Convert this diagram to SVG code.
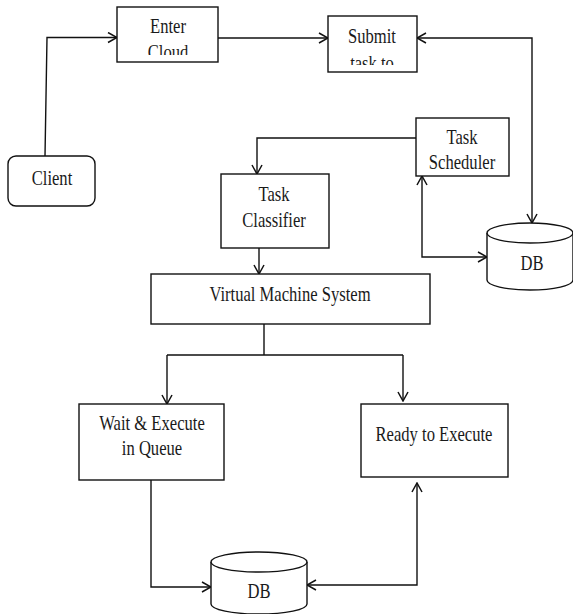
<svg xmlns="http://www.w3.org/2000/svg" width="573" height="614" viewBox="0 0 573 614">
<style>
.box{fill:#fff;stroke:#111;stroke-width:1.4}
.ln{fill:none;stroke:#111;stroke-width:1.4}
.t{font-family:"Liberation Serif","Times New Roman",serif;font-size:20px;fill:#1a1a1a;text-anchor:middle}
</style>
<defs>
<marker id="ah" viewBox="0 0 12 12" refX="11" refY="6" markerWidth="12" markerHeight="12" markerUnits="userSpaceOnUse" orient="auto-start-reverse">
<path d="M2,1 L11,6 L2,11" fill="none" stroke="#111" stroke-width="1.5"/>
</marker>
<clipPath id="c1"><rect x="117" y="7" width="101" height="48"/></clipPath>
<clipPath id="c2"><rect x="328" y="16" width="89" height="49"/></clipPath>
</defs>
<rect width="573" height="614" fill="#fff"/>
<g id="connectors">
<path class="ln" d="M45,156 L47,37.5 L117,37.5" marker-end="url(#ah)"/>
<path class="ln" d="M218,38 L328,38" marker-end="url(#ah)"/>
<path class="ln" d="M532,223 L532,38 L417,38" marker-start="url(#ah)" marker-end="url(#ah)"/>
<path class="ln" d="M416,138 L257,138 L257,174" marker-end="url(#ah)"/>
<path class="ln" d="M422,176 L422,257 L487,257" marker-start="url(#ah)" marker-end="url(#ah)"/>
<path class="ln" d="M259,248 L259,274" marker-end="url(#ah)"/>
<path class="ln" d="M264,324 L264,355 M167,355 L403,355"/>
<path class="ln" d="M167,355 L167,404" marker-end="url(#ah)"/>
<path class="ln" d="M403,355 L403,401" marker-end="url(#ah)"/>
<path class="ln" d="M151,480 L151,587 L211,587" marker-end="url(#ah)"/>
<path class="ln" d="M307,585 L417,585 L417,483" marker-start="url(#ah)" marker-end="url(#ah)"/>
</g>
<g id="client">
<rect class="box" x="8" y="156" width="87" height="50" rx="8"/>
<text class="t" transform="matrix(0.83 0 0 1 52 0)" x="0" y="185">Client</text>
</g>
<g id="enter-cloud">
<rect class="box" x="117" y="7" width="101" height="55"/>
<g clip-path="url(#c1)">
<text class="t" transform="matrix(0.83 0 0 1 168 0)" x="0" y="33">Enter</text>
<text class="t" transform="matrix(0.83 0 0 1 168 0)" x="0" y="59">Cloud</text>
</g>
</g>
<g id="submit-task">
<rect class="box" x="328" y="16" width="89" height="56"/>
<g clip-path="url(#c2)">
<text class="t" transform="matrix(0.83 0 0 1 372 0)" x="0" y="43">Submit</text>
<text class="t" transform="matrix(0.83 0 0 1 372 0)" x="0" y="70">task to</text>
</g>
</g>
<g id="task-scheduler">
<rect class="box" x="416" y="118" width="93" height="58"/>
<text class="t" transform="matrix(0.83 0 0 1 462 0)" x="0" y="144">Task</text>
<text class="t" transform="matrix(0.83 0 0 1 462 0)" x="0" y="169">Scheduler</text>
</g>
<g id="task-classifier">
<rect class="box" x="221" y="174" width="108" height="74"/>
<text class="t" transform="matrix(0.83 0 0 1 274 0)" x="0" y="201">Task</text>
<text class="t" transform="matrix(0.83 0 0 1 274 0)" x="0" y="227">Classifier</text>
</g>
<g id="db-top">
<path class="box" d="M487,233 L487,280 A43,10 0 0 0 573,280 L573,233"/>
<ellipse class="box" cx="530" cy="233" rx="43" ry="10"/>
<text class="t" transform="matrix(0.83 0 0 1 532 0)" x="0" y="270">DB</text>
</g>
<g id="vm-system">
<rect class="box" x="151" y="274" width="279" height="50"/>
<text class="t" transform="matrix(0.83 0 0 1 290 0)" x="0" y="301">Virtual Machine System</text>
</g>
<g id="wait-queue">
<rect class="box" x="79" y="404" width="145" height="76"/>
<text class="t" transform="matrix(0.83 0 0 1 152 0)" x="0" y="430">Wait  &amp; Execute</text>
<text class="t" transform="matrix(0.83 0 0 1 152 0)" x="0" y="455">in Queue</text>
</g>
<g id="ready">
<rect class="box" x="361" y="404" width="147" height="73"/>
<text class="t" transform="matrix(0.83 0 0 1 434 0)" x="0" y="441">Ready to Execute</text>
</g>
<g id="db-bottom">
<path class="box" d="M211,562 L211,604 A48,10 0 0 0 307,604 L307,562"/>
<ellipse class="box" cx="259" cy="562" rx="48" ry="10"/>
<text class="t" transform="matrix(0.83 0 0 1 259 0)" x="0" y="598">DB</text>
</g>
</svg>
